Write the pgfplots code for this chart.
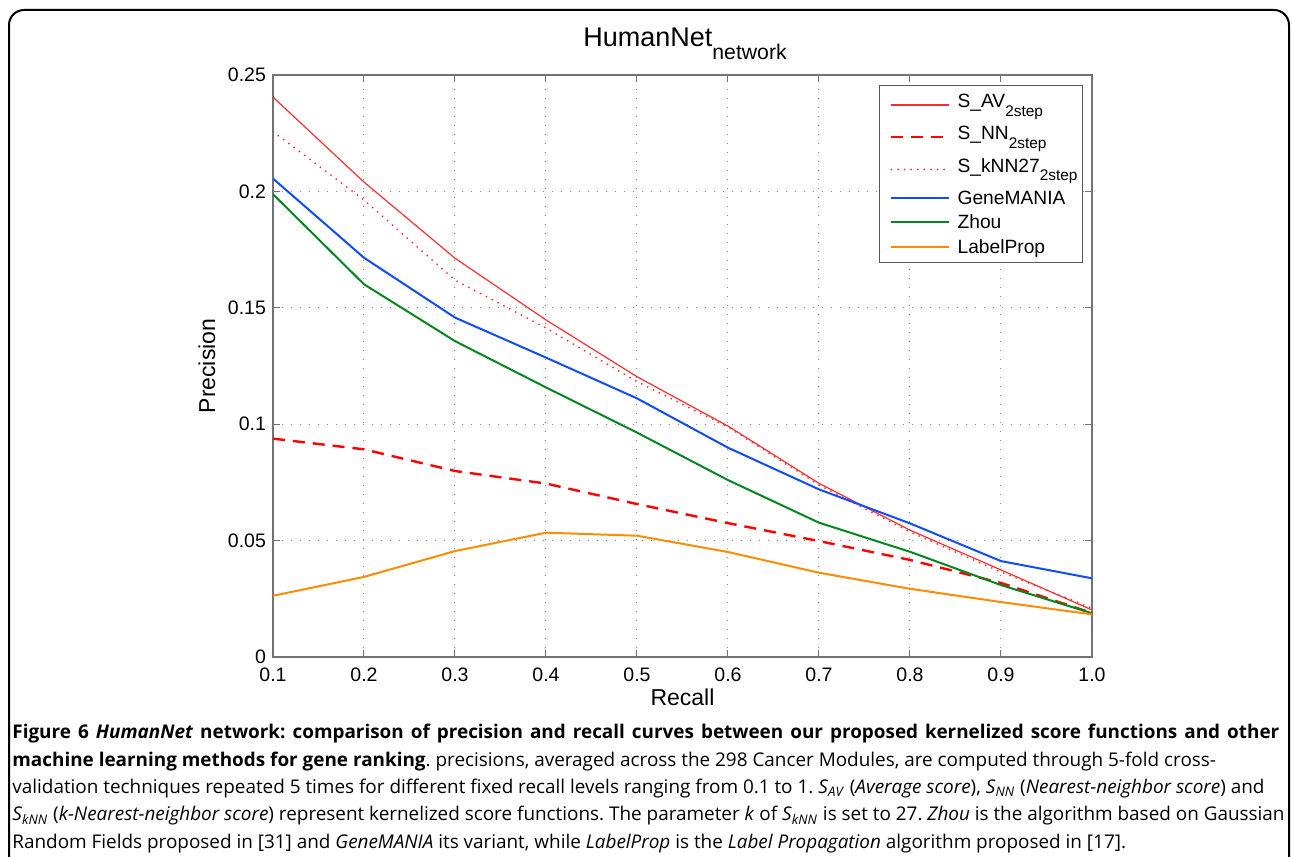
\documentclass[border=0pt]{standalone}
\usepackage{pgfplots}
\pgfplotsset{compat=1.18}
\usepackage{fontspec}
\setmainfont{Open Sans}
\newfontfamily\chartfont{Liberation Sans}
\definecolor{cAV}{RGB}{255,45,45}
\definecolor{cNN}{RGB}{255,0,0}
\definecolor{cBlue}{RGB}{15,75,255}
\definecolor{cGreen}{RGB}{0,135,30}
\definecolor{cOrange}{RGB}{255,140,0}
\newcommand{\lsub}[1]{\raisebox{-4.3pt}{\fontsize{7.7}{8}\selectfont #1}}
\newcommand{\capfont}{\fontsize{9.45}{11}\selectfont\frenchspacing}
\begin{document}
\begin{tikzpicture}[x=1pt,y=1pt]
\useasboundingbox (0,0) rectangle (646,428.5);
\draw[line width=1pt, rounded corners=7.5pt] (4.5,-30) -- (4.5,423.5) -- (644.5,423.5) -- (644.5,-30);
\begin{axis}[
  at={(136.5pt,100pt)}, anchor=south west,
  scale only axis, width=409.5pt, height=291pt,
  xmin=0.1, xmax=1, ymin=0, ymax=0.25,
  xtick={0.1,0.2,0.3,0.4,0.5,0.6,0.7,0.8,0.9,1},
  xticklabels={0.1,0.2,0.3,0.4,0.5,0.6,0.7,0.8,0.9,1.0},
  ytick={0,0.05,0.1,0.15,0.2,0.25},
  yticklabels={0,0.05,0.1,0.15,0.2,0.25},
  tick align=inside, major tick length=3.5pt,
  tick style={black!55, line width=0.5pt},
  axis line style={black!55, line width=0.6pt},
  grid=major,
  major grid style={black!45, line width=0.5pt, dash pattern=on 0.5pt off 4pt},
  tick label style={font=\chartfont\fontsize{9.75}{11}\selectfont},
  xticklabel style={yshift=-1.75pt},
  xlabel={Recall}, ylabel={Precision},
  every axis x label/.style={at={(axis description cs:0.5,-0.0825)}, anchor=base, font=\chartfont\fontsize{11.5}{13}\selectfont},
  every axis y label/.style={at={(axis description cs:-0.0708,0.5)}, rotate=90, anchor=base, font=\chartfont\fontsize{11.5}{13}\selectfont},
  legend cell align=left,
  legend style={at={(0.989,0.983)}, anchor=north east, draw=black!65, line width=0.5pt, fill=white,
    inner xsep=2.5pt, inner ysep=1.8pt, column sep=3.5pt,
    font=\chartfont\fontsize{9.6}{11}\selectfont,
    nodes={inner xsep=0pt, inner ysep=0pt, text height=9.35pt, text depth=2.85pt}},
  legend image code/.code={\path (0pt,0pt); \draw[#1] (3pt,0pt) -- (32pt,0pt);},
]
\addplot[cAV, line width=0.6pt] coordinates {(0.1,0.2405) (0.2,0.2040) (0.3,0.1713) (0.4,0.1448) (0.5,0.1204) (0.6,0.0992) (0.7,0.0746) (0.8,0.0545) (0.9,0.0374) (1.0,0.0202)};
\addlegendentry[text depth=6.75pt]{S\_AV\lsub{2step}}
\addplot[cNN, line width=1.2pt, dash pattern=on 6pt off 4pt] coordinates {(0.1,0.0938) (0.2,0.0892) (0.3,0.0799) (0.4,0.0745) (0.5,0.0657) (0.6,0.0575) (0.7,0.0498) (0.8,0.0417) (0.9,0.0318) (1.0,0.0189)};
\addlegendentry[text depth=6.75pt]{S\_NN\lsub{2step}}
\addplot[cAV, line width=1pt, line cap=round, dash pattern=on 0pt off 3.3pt] coordinates {(0.1,0.2257) (0.2,0.1963) (0.3,0.1619) (0.4,0.1413) (0.5,0.1183) (0.6,0.0988) (0.7,0.0739) (0.8,0.0537) (0.9,0.0365) (1.0,0.0210)};
\addlegendentry[text depth=6.75pt]{S\_kNN27\lsub{2step}}
\addplot[cBlue, line width=1pt] coordinates {(0.1,0.2055) (0.2,0.1715) (0.3,0.1458) (0.4,0.1286) (0.5,0.1111) (0.6,0.0899) (0.7,0.0720) (0.8,0.0574) (0.9,0.0412) (1.0,0.0338)};
\addlegendentry{GeneMANIA}
\addplot[cGreen, line width=1pt] coordinates {(0.1,0.1988) (0.2,0.1601) (0.3,0.1357) (0.4,0.1158) (0.5,0.0964) (0.6,0.0760) (0.7,0.0577) (0.8,0.0452) (0.9,0.0309) (1.0,0.0188)};
\addlegendentry{Zhou}
\addplot[cOrange, line width=1pt] coordinates {(0.1,0.0263) (0.2,0.0344) (0.3,0.0455) (0.4,0.0534) (0.5,0.0521) (0.6,0.0451) (0.7,0.0362) (0.8,0.0293) (0.9,0.0236) (1.0,0.0183)};
\addlegendentry{LabelProp}
\end{axis}
\node[anchor=base west, inner sep=0pt, font=\chartfont\fontsize{13.5}{16}\selectfont] at (291.5,405.2) {HumanNet\raisebox{-6.5pt}{\fontsize{10.6}{12}\selectfont network}};
\node[anchor=base west, inner sep=0pt, font=\capfont] at (6,59) {\makebox[633.5pt][s]{\textbf{Figure 6 \textit{HumanNet} network: comparison of precision and recall curves between our proposed kernelized score functions and other}}};
\node[anchor=base west, inner sep=0pt, font=\capfont] at (6,45.35) {\textbf{machine learning methods for gene ranking}. precisions, averaged across the 298 Cancer Modules, are computed through 5-fold cross-};
\node[anchor=base west, inner sep=0pt, font=\capfont] at (6,31.7) {validation techniques repeated 5 times for different fixed recall levels ranging from 0.1 to 1. \textit{S}\textsubscript{\textit{AV}} (\textit{Average score}), \textit{S}\textsubscript{\textit{NN}} (\textit{Nearest-neighbor score}) and};
\node[anchor=base west, inner sep=0pt, font=\capfont] at (6,18.05) {\textit{S}\textsubscript{\textit{kNN}} (\textit{k-Nearest-neighbor score}) represent kernelized score functions. The parameter \textit{k} of \textit{S}\textsubscript{\textit{kNN}} is set to 27. \textit{Zhou} is the algorithm based on Gaussian};
\node[anchor=base west, inner sep=0pt, font=\capfont] at (6,4.4) {Random Fields proposed in [31] and \textit{GeneMANIA} its variant, while \textit{LabelProp} is the \textit{Label Propagation} algorithm proposed in [17].};
\end{tikzpicture}
\end{document}
